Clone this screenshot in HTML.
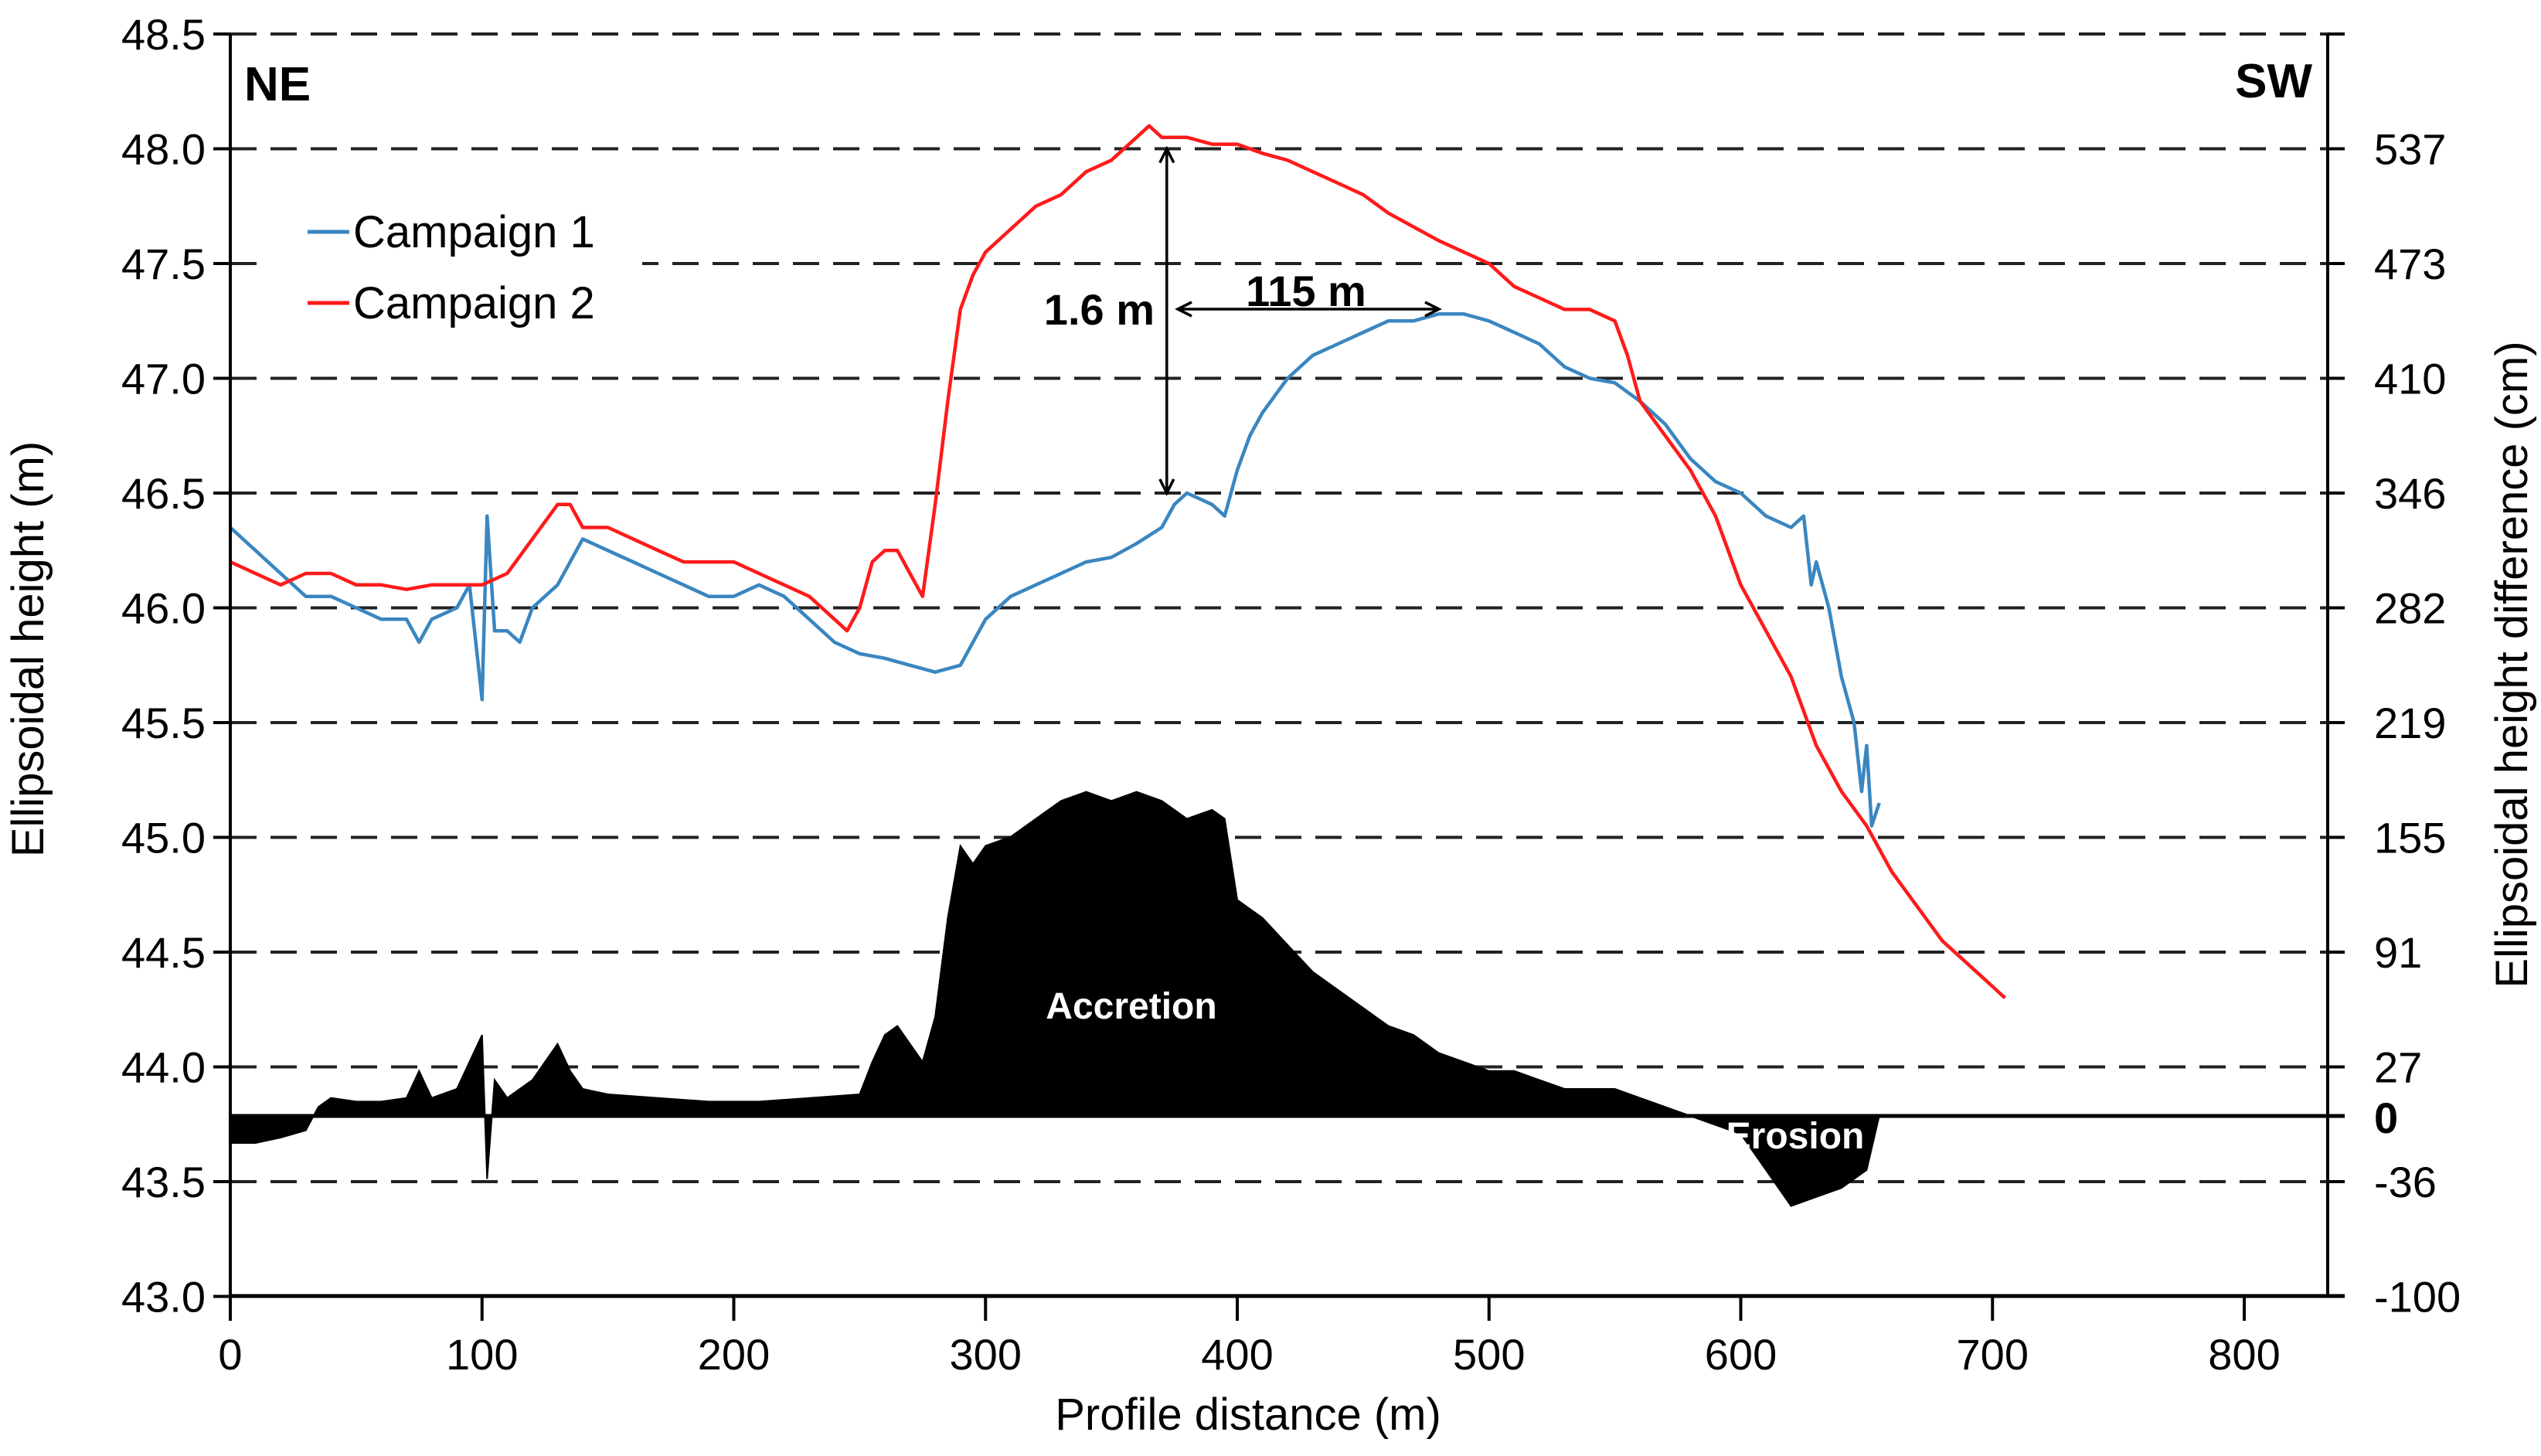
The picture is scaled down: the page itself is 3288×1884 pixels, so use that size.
<!DOCTYPE html>
<html><head><meta charset="utf-8"><style>
body{margin:0;background:#fff}
svg{display:block;font-family:"Liberation Sans",sans-serif}
</style></head><body>
<svg id="chart" width="3288" height="1884" viewBox="0 0 3288 1884" xmlns="http://www.w3.org/2000/svg">
<g id="grid"></g>
<g id="diff"></g>
<g id="series"></g>
<g id="axes"></g>
</svg>
<script>
const xTicks=[0,100,200,300,400,500,600,700,800];
const yTicks=[43.0,43.5,44.0,44.5,45.0,45.5,46.0,46.5,47.0,47.5,48.0,48.5];
const rightLabels=["-100","-36","27","91","155","219","282","346","410","473","537"];
const c1Dist=[0,5,10,20,30,40,50,60,70,75,80,90,95,100,102,105,110,115,120,130,140,150,160,170,180,190,200,210,220,230,240,250,260,270,280,290,295,300,310,320,330,340,350,360,370,375,380,390,395,400,405,410,420,430,440,450,460,470,480,490,500,510,520,530,540,550,560,570,580,590,600,610,620,625,628,630,635,640,645,648,650,652,655];
const c1Val=[46.35,46.3,46.25,46.15,46.05,46.05,46.0,45.95,45.95,45.85,45.95,46.0,46.1,45.6,46.4,45.9,45.9,45.85,46.0,46.1,46.3,46.25,46.2,46.15,46.1,46.05,46.05,46.1,46.05,45.95,45.85,45.8,45.78,45.75,45.72,45.75,45.85,45.95,46.05,46.1,46.15,46.2,46.22,46.28,46.35,46.45,46.5,46.45,46.4,46.6,46.75,46.85,47.0,47.1,47.15,47.2,47.25,47.25,47.28,47.28,47.25,47.2,47.15,47.05,47.0,46.98,46.9,46.8,46.65,46.55,46.5,46.4,46.35,46.4,46.1,46.2,46.0,45.7,45.5,45.2,45.4,45.05,45.15];
const c2Dist=[0,10,20,30,40,50,60,70,80,90,100,110,120,130,135,140,150,160,170,180,190,200,210,220,230,240,245,250,255,260,265,270,275,280,285,290,295,300,310,320,330,340,350,360,365,370,380,390,400,410,420,430,440,450,460,470,480,490,500,510,520,530,540,550,555,560,570,580,590,600,610,620,630,640,650,660,670,680,690,700,705];
const c2Val=[46.2,46.15,46.1,46.15,46.15,46.1,46.1,46.08,46.1,46.1,46.1,46.15,46.3,46.45,46.45,46.35,46.35,46.3,46.25,46.2,46.2,46.2,46.15,46.1,46.05,45.95,45.9,46.0,46.2,46.25,46.25,46.15,46.05,46.45,46.9,47.3,47.45,47.55,47.65,47.75,47.8,47.9,47.95,48.05,48.1,48.05,48.05,48.02,48.02,47.98,47.95,47.9,47.85,47.8,47.72,47.66,47.6,47.55,47.5,47.4,47.35,47.3,47.3,47.25,47.1,46.9,46.75,46.6,46.4,46.1,45.9,45.7,45.4,45.2,45.05,44.85,44.7,44.55,44.45,44.35,44.3];
const dDist=[0,10,20,30,35,40,50,60,70,75,80,90,95,100,102,105,110,120,125,130,135,140,150,170,190,210,230,250,255,260,265,270,275,280,285,290,295,300,310,320,330,340,350,360,370,380,390,395,400,410,420,430,440,450,460,470,480,490,500,510,520,530,540,550,560,570,580,590,600,610,620,630,640,650,655];
const dVal=[-15,-15,-12,-8,5,10,8,8,10,25,10,15,30,45,-35,20,10,20,30,40,25,15,12,10,8,8,10,12,30,45,50,40,30,55,110,150,140,150,155,165,175,180,175,180,175,165,170,165,120,110,95,80,70,60,50,45,35,30,25,25,20,15,15,15,10,5,0,-5,-10,-30,-50,-45,-40,-30,0];

const X0=298,XS=3.2575,YTOP=44,YPM=297,Z0=1444,CMS=2.33,L=298,R=3012,B=1677;
const xs=d=>X0+d*XS, ys=v=>YTOP+(48.5-v)*YPM, yd=c=>Z0-c*CMS;
const NS="http://www.w3.org/2000/svg";
function mk(tag,parent,attrs,text){const e=document.createElementNS(NS,tag);for(const k in attrs)e.setAttribute(k,attrs[k]);if(text!==undefined)e.textContent=text;parent.appendChild(e);return e;}
const grid=document.getElementById('grid'),axes=document.getElementById('axes'),series=document.getElementById('series'),diff=document.getElementById('diff'),svg=document.getElementById('chart');

yTicks.forEach((v,i)=>{
  const y=ys(v);
  if(i>0){const g=mk('line',grid,{x1:L,x2:R,y1:y,y2:y,stroke:'#222','stroke-width':4,'stroke-dasharray':'34 18'});
  
  }
  mk('line',axes,{x1:L-22,x2:L,y1:y,y2:y,stroke:'#000','stroke-width':4});
  mk('line',axes,{x1:R,x2:R+22,y1:y,y2:y,stroke:'#000','stroke-width':4});
  const t=mk('text',axes,{x:L-32,y:y+20,'text-anchor':'end','font-size':56},v.toFixed(1));
  
  
  if(i<rightLabels.length){const r=mk('text',axes,{x:3072,y:y+20,'font-size':56},rightLabels[i]);
  
  }
});
const lb=mk('rect',grid,{x:344,y:245,width:487,height:180,fill:'#fff'});



let dp='M'+xs(dDist[0])+','+Z0;
dDist.forEach((d,i)=>{dp+=' L'+xs(d).toFixed(1)+','+yd(dVal[i]).toFixed(1);});
dp+=' L'+xs(dDist[dDist.length-1])+','+Z0+' Z';
const da=mk('path',diff,{d:dp,fill:'#000',stroke:'#000','stroke-width':2});


const zl=mk('line',diff,{x1:L,x2:R+22,y1:Z0,y2:Z0,stroke:'#000','stroke-width':5});



function line(dist,val,color,name){
  const p=dist.map((d,i)=>(i?'L':'M')+xs(d).toFixed(1)+','+ys(val[i]).toFixed(1)).join(' ');
  const e=mk('path',series,{d:p,fill:'none',stroke:color,'stroke-width':4.5,'stroke-linejoin':'round'});
  
  
}
line(c1Dist,c1Val,'#3a86c0','campaign-1-line');
line(c2Dist,c2Val,'#ff1a1a','campaign-2-line');

mk('line',axes,{x1:L,x2:L,y1:ys(48.5),y2:B,stroke:'#000','stroke-width':4});
mk('line',axes,{x1:R,x2:R,y1:ys(48.5),y2:B,stroke:'#000','stroke-width':4});
mk('line',axes,{x1:L,x2:R+22,y1:B,y2:B,stroke:'#000','stroke-width':5});
xTicks.forEach(d=>{
  mk('line',axes,{x1:xs(d),x2:xs(d),y1:B,y2:B+32,stroke:'#000','stroke-width':4});
  const t=mk('text',axes,{x:xs(d),y:1772,'text-anchor':'middle','font-size':56},String(d));
  
  
});
const ann=[
 ['text',{x:1615,y:1850,'text-anchor':'middle','font-size':58},'Profile distance (m)','x-axis-title'],
 ['text',{x:0,y:0,'text-anchor':'middle','font-size':58,transform:'translate(56,840) rotate(-90)'},'Ellipsoidal height (m)','y-axis-title'],
 ['text',{x:0,y:0,'text-anchor':'middle','font-size':58,transform:'translate(3270,860) rotate(-90)'},'Ellipsoidal height difference (cm)','y2-axis-title'],
 ['text',{x:3072,y:1466,'font-size':56,'font-weight':'bold'},'0','y2-zero-label'],
 ['text',{x:316,y:130,'font-size':62,'font-weight':'bold'},'NE','ne-label'],
 ['text',{x:2992,y:126,'text-anchor':'end','font-size':62,'font-weight':'bold'},'SW','sw-label'],
 ['text',{x:1464,y:1318,'text-anchor':'middle','font-size':48,'font-weight':'bold',fill:'#fff'},'Accretion','accretion-label'],
 ['text',{x:2323,y:1486,'text-anchor':'middle','font-size':48,'font-weight':'bold',fill:'#fff'},'Erosion','erosion-label'],
 ['text',{x:1494,y:420,'text-anchor':'end','font-size':56,'font-weight':'bold'},'1.6 m','height-annotation'],
 ['text',{x:1690,y:396,'text-anchor':'middle','font-size':56,'font-weight':'bold'},'115 m','distance-annotation'],
 ['text',{x:457,y:320,'font-size':58},'Campaign 1','legend-entry-campaign-1'],
 ['text',{x:457,y:412,'font-size':58},'Campaign 2','legend-entry-campaign-2']
];
ann.forEach(a=>{const e=mk(a[0],svg,a[1],a[2]);
  
  });
const l1=mk('line',svg,{x1:398,x2:452,y1:300,y2:300,stroke:'#3a86c0','stroke-width':5});


const l2=mk('line',svg,{x1:398,x2:452,y1:392,y2:392,stroke:'#ff1a1a','stroke-width':5});


const ax=xs(372),ay1=ys(48.0),ay2=ys(46.5);
const va=mk('path',svg,{d:`M${ax},${ay1} L${ax},${ay2} M${ax-9},${ay1+18} L${ax},${ay1} L${ax+9},${ay1+18} M${ax-9},${ay2-18} L${ax},${ay2} L${ax+9},${ay2-18}`,stroke:'#000','stroke-width':3.5,fill:'none'});


const hy=400,hx1=1524,hx2=1862;
const ha=mk('path',svg,{d:`M${hx1},${hy} L${hx2},${hy} M${hx1+18},${hy-9} L${hx1},${hy} L${hx1+18},${hy+9} M${hx2-18},${hy-9} L${hx2},${hy} L${hx2-18},${hy+9}`,stroke:'#000','stroke-width':3.5,fill:'none'});


</script>
</body></html>
